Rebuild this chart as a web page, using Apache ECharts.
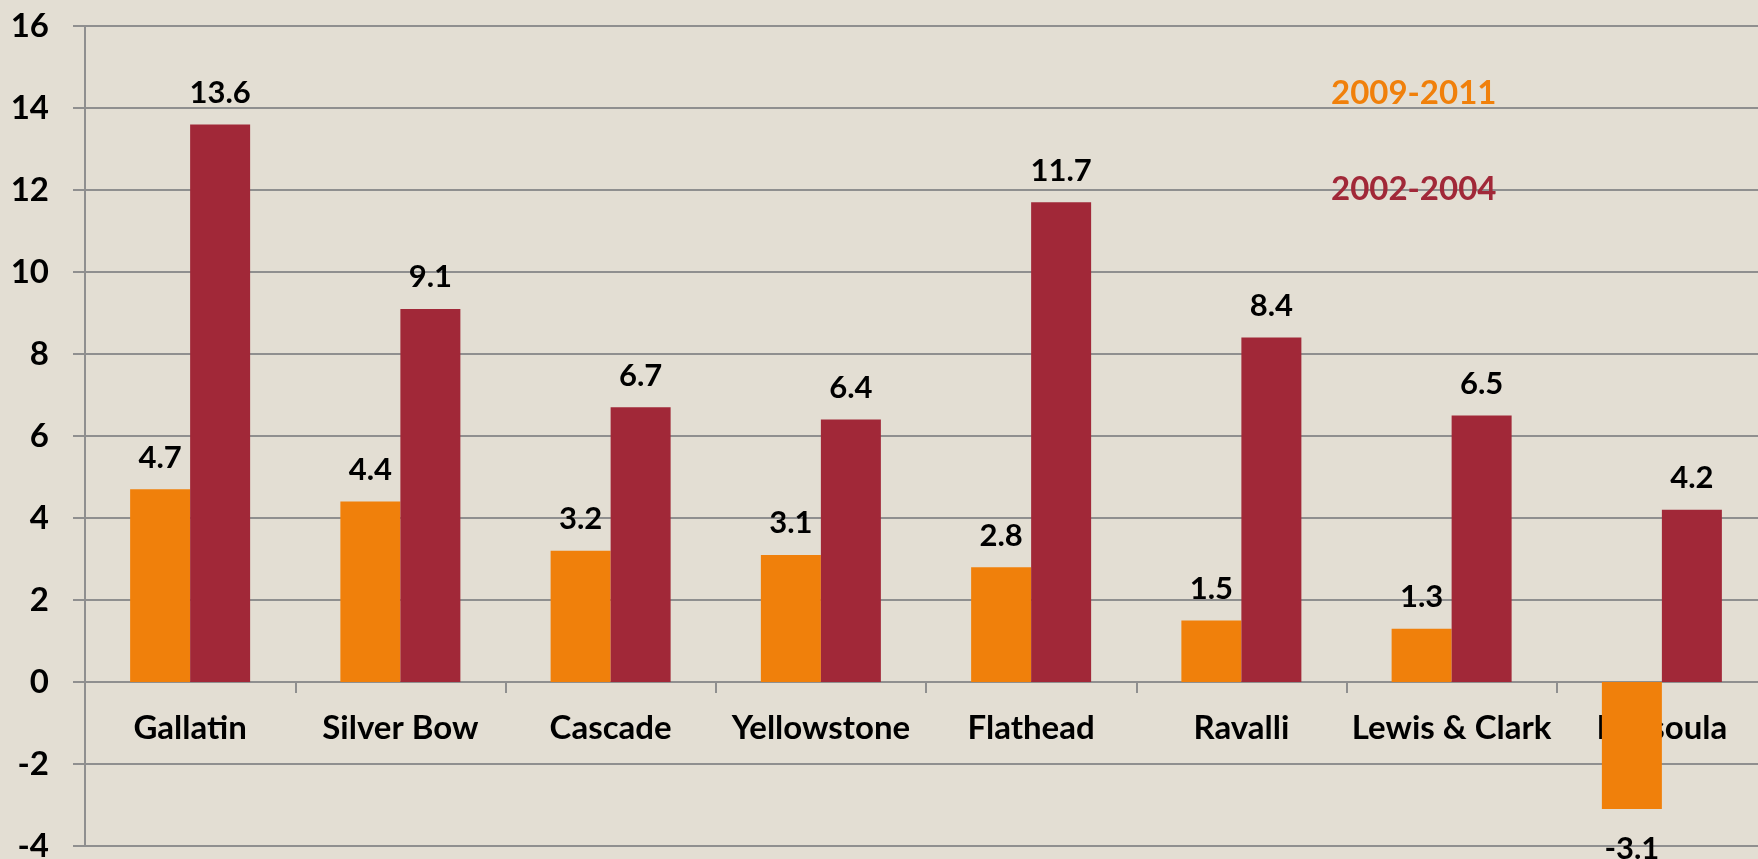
<!DOCTYPE html>
<html>
<head>
<meta charset="utf-8">
<script src="https://cdn.jsdelivr.net/npm/echarts@6/dist/echarts.min.js"></script>
<style>
    html, body {margin: 0; padding: 0; background: #e3ded3;}
    #charts {width: 1758px; height: 859px;}
</style>
</head>
<body>
<div id="charts"></div>
<script>
var counties = ['Gallatin', 'Silver Bow', 'Cascade', 'Yellowstone', 'Flathead', 'Ravalli', 'Lewis & Clark', 'Missoula'];
var recent = [4.7, 4.4, 3.2, 3.1, 2.8, 1.5, 1.3, -3.1];   // 2009-2011
var earlier = [13.6, 9.1, 6.7, 6.4, 11.7, 8.4, 6.5, 4.2]; // 2002-2004
var yTicks = {min: -4, max: 16, interval: 2};

var font = 'Lato, "Open Sans", sans-serif';
var orange = '#f0800b';
var red = '#a12838';
var gridTop = 26, gridBottom = 13;
var plotH = 859 - gridTop - gridBottom;

// negative bars get the label under the bar
function withLabels(arr) {
    return arr.map(function (v) {
        return v < 0 ? {value: v, label: {position: 'bottom', distance: 24}} : v;
    });
}

var option = {
    backgroundColor: '#e3ded3',
    animation: false,
    grid: {left: 85, right: -9, top: gridTop, bottom: gridBottom, outerBoundsMode: 'none', containLabel: false},
    legend: {
        orient: 'vertical',
        left: 1321,
        top: 70,
        icon: 'none',
        itemWidth: 0,
        itemHeight: 36,
        itemGap: 62,
        selectedMode: false,
        textStyle: {fontFamily: font, fontWeight: 'bold', fontSize: 33},
        data: [
            {name: '2009-2011', textStyle: {color: orange}},
            {name: '2002-2004', textStyle: {color: red}}
        ]
    },
    xAxis: {
        type: 'category',
        data: counties,
        // put the axis on the zero line by offsetting it up from the grid bottom
        offset: -plotH * (0 - yTicks.min) / (yTicks.max - yTicks.min),
        axisLine: {onZero: false, lineStyle: {color: '#8f8f8f', width: 2}},
        axisTick: {show: true, length: 11, lineStyle: {color: '#8f8f8f', width: 2}},
        axisLabel: {
            interval: 0,
            margin: 30,
            color: '#000',
            fontFamily: font,
            fontWeight: 'bold',
            fontSize: 33
        }
    },
    yAxis: {
        type: 'value',
        min: yTicks.min,
        max: yTicks.max,
        interval: yTicks.interval,
        axisLine: {show: true, lineStyle: {color: '#8f8f8f', width: 2}},
        axisTick: {show: true, length: 12, lineStyle: {color: '#8f8f8f', width: 2}},
        splitLine: {lineStyle: {color: '#8f8f8f', width: 2}},
        axisLabel: {
            margin: 36,
            color: '#000',
            fontFamily: font,
            fontWeight: 'bold',
            fontSize: 33
        }
    },
    series: [
        {
            name: '2009-2011',
            type: 'bar',
            data: withLabels(recent),
            barWidth: 60,
            barGap: '0%',
            itemStyle: {color: orange},
            label: {
                show: true, position: 'top', distance: 16,
                color: '#000', fontFamily: font, fontWeight: 'bold', fontSize: 31
            }
        },
        {
            name: '2002-2004',
            type: 'bar',
            data: withLabels(earlier),
            barWidth: 60,
            barGap: '0%',
            itemStyle: {color: red},
            label: {
                show: true, position: 'top', distance: 16,
                color: '#000', fontFamily: font, fontWeight: 'bold', fontSize: 31
            }
        }
    ]
};

var chart = echarts.init(document.getElementById('charts'));
chart.setOption(option);
</script>
</body>
</html>
